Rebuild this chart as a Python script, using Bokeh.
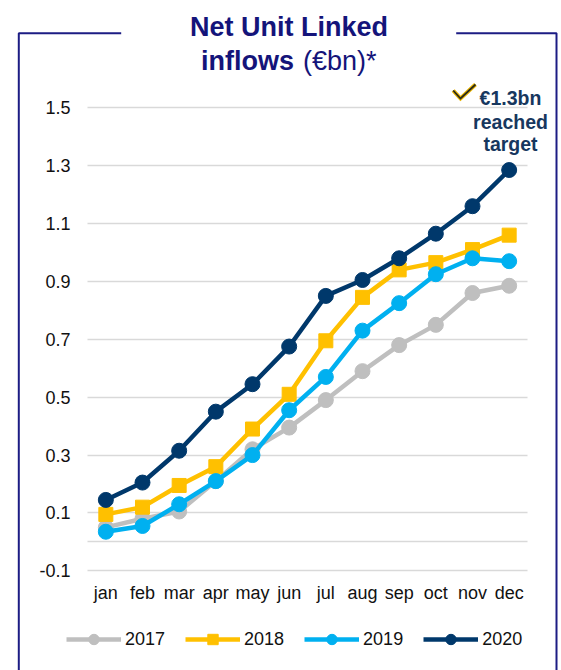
from bokeh.plotting import figure
from bokeh.models import (Range1d, FixedTicker, PrintfTickFormatter,
                          Label, Legend, LegendItem, PolyAnnotation)
from bokeh.embed import file_html
from bokeh.resources import INLINE

months = ["jan", "feb", "mar", "apr", "may", "jun", "jul", "aug", "sep", "oct", "nov", "dec"]
y2017 = [0.05, 0.08, 0.105, 0.21, 0.32, 0.395, 0.49, 0.59, 0.68, 0.75, 0.86, 0.885]
y2018 = [0.095, 0.12, 0.195, 0.26, 0.39, 0.51, 0.695, 0.845, 0.94, 0.965, 1.01, 1.06]
y2019 = [0.035, 0.055, 0.13, 0.21, 0.30, 0.455, 0.57, 0.73, 0.825, 0.925, 0.98, 0.97]
y2020 = [0.145, 0.205, 0.315, 0.45, 0.545, 0.675, 0.85, 0.905, 0.98, 1.065, 1.16, 1.285]
y_ticks = [-0.1, 0.1, 0.3, 0.5, 0.7, 0.9, 1.1, 1.3, 1.5]
y_grid = [-0.1, 0.0, 0.1, 0.3, 0.5, 0.7, 0.9, 1.1, 1.3, 1.5]
x_idx = list(range(len(months)))

series = [
    ("2017", y2017, "#BFBFBF", "circle"),
    ("2018", y2018, "#FFC000", "square"),
    ("2019", y2019, "#00B0F0", "circle"),
    ("2020", y2020, "#00386B", "circle"),
]

FONT = "Liberation Sans"
NAVY_T = "#14147A"
ANN = "#17375E"
W, H = 561, 670

p = figure(width=W, height=H, x_range=Range1d(-2.8727, 12.4273),
           y_range=Range1d(-0.4444, 1.8708), output_backend="svg",
           toolbar_location=None, min_border=0)
p.outline_line_color = None
p.background_fill_color = "white"
p.border_fill_color = "white"

p.xgrid.visible = False
p.ygrid.ticker = FixedTicker(ticks=y_grid)
p.ygrid.grid_line_color = "#D9D9D9"
p.ygrid.grid_line_width = 1.5
p.ygrid.cross_bounds = (-0.5, 11.5)

p.yaxis.ticker = FixedTicker(ticks=y_ticks)
p.yaxis.formatter = PrintfTickFormatter(format="%.1f")
p.yaxis.fixed_location = -0.5
p.xaxis.ticker = FixedTicker(ticks=x_idx)
p.xaxis.major_label_overrides = {i: m for i, m in zip(x_idx, months)}
p.xaxis.fixed_location = -0.1161
for ax in (p.xaxis, p.yaxis):
    ax.axis_line_color = None
    ax.major_tick_line_color = None
    ax.minor_tick_line_color = None
    ax.major_tick_out = 0
    ax.major_tick_in = 0
    ax.major_label_text_font = FONT
    ax.major_label_text_font_size = "18px"
    ax.major_label_text_color = "#111111"
p.yaxis.major_label_standoff = 17
p.xaxis.major_label_standoff = 8

items = []
for name, vals, color, marker in series:
    l = p.line(x_idx, vals, line_color=color, line_width=4.5)
    s = p.scatter(x_idx, vals, marker=marker, size=15 if marker == "circle" else 14,
                  fill_color=color, line_color=color)
    items.append(LegendItem(label=name, renderers=[l, s]))

legend = Legend(items=items, orientation="horizontal", location=(66, 18),
                glyph_width=55, glyph_height=26, label_height=26, label_standoff=4,
                spacing=20, padding=0, margin=0, border_line_color=None,
                background_fill_alpha=0, label_text_font=FONT,
                label_text_font_size="18px", label_text_color="#111111")
p.add_layout(legend)

# title
p.add_layout(Label(x=288.5, y=H - 26, x_units="screen", y_units="screen", text="Net Unit Linked",
                   text_font=FONT, text_font_size="27px", text_font_style="bold",
                   text_color=NAVY_T, text_align="center", text_baseline="alphabetic"))
p.add_layout(Label(x=293.5, y=H - 60, x_units="screen", y_units="screen", text="inflows",
                   text_font=FONT, text_font_size="27px", text_font_style="bold",
                   text_color=NAVY_T, text_align="right", text_baseline="alphabetic"))
p.add_layout(Label(x=302.5, y=H - 60, x_units="screen", y_units="screen", text="(€bn)*",
                   text_font=FONT, text_font_size="27px", text_font_style="normal",
                   text_color=NAVY_T, text_align="left", text_baseline="alphabetic"))

# annotation: check mark + text
chk_x = [452.7, 460.0, 475.0, 460.0]
chk_y = [H - 90.0, H - 98.0, H - 84.0, H - 98.0]
p.add_layout(PolyAnnotation(xs=chk_x, ys=chk_y, xs_units="screen", ys_units="screen",
                            fill_alpha=0, line_color="#E8B400", line_alpha=1, line_width=4,
                            line_join="miter"))
p.add_layout(PolyAnnotation(xs=chk_x, ys=chk_y, xs_units="screen", ys_units="screen",
                            fill_alpha=0, line_color="#2A2A1A", line_alpha=1, line_width=1.8,
                            line_join="miter"))
for txt, yy in (("€1.3bn", 102.0), ("reached", 126.0), ("target", 148.0)):
    p.add_layout(Label(x=510, y=H - yy + 5, x_units="screen", y_units="screen", text=txt,
                       text_font=FONT, text_font_size="19.5px", text_font_style="bold",
                       text_color=ANN, text_align="center", text_baseline="alphabetic"))

# frame around the panel
FR = "#1C1C84"
top = H - 32.7
p.add_layout(PolyAnnotation(xs=[120.7, 18.3, 18.3, 18.3], ys=[top, top, -20, top],
                            xs_units="screen", ys_units="screen", fill_alpha=0,
                            line_color=FR, line_alpha=1, line_width=2))
p.add_layout(PolyAnnotation(xs=[455.7, 556.0, 556.0, 556.0], ys=[top, top, -20, top],
                            xs_units="screen", ys_units="screen", fill_alpha=0,
                            line_color=FR, line_alpha=1, line_width=2))

open("out.html", "w").write(file_html(p, INLINE))
